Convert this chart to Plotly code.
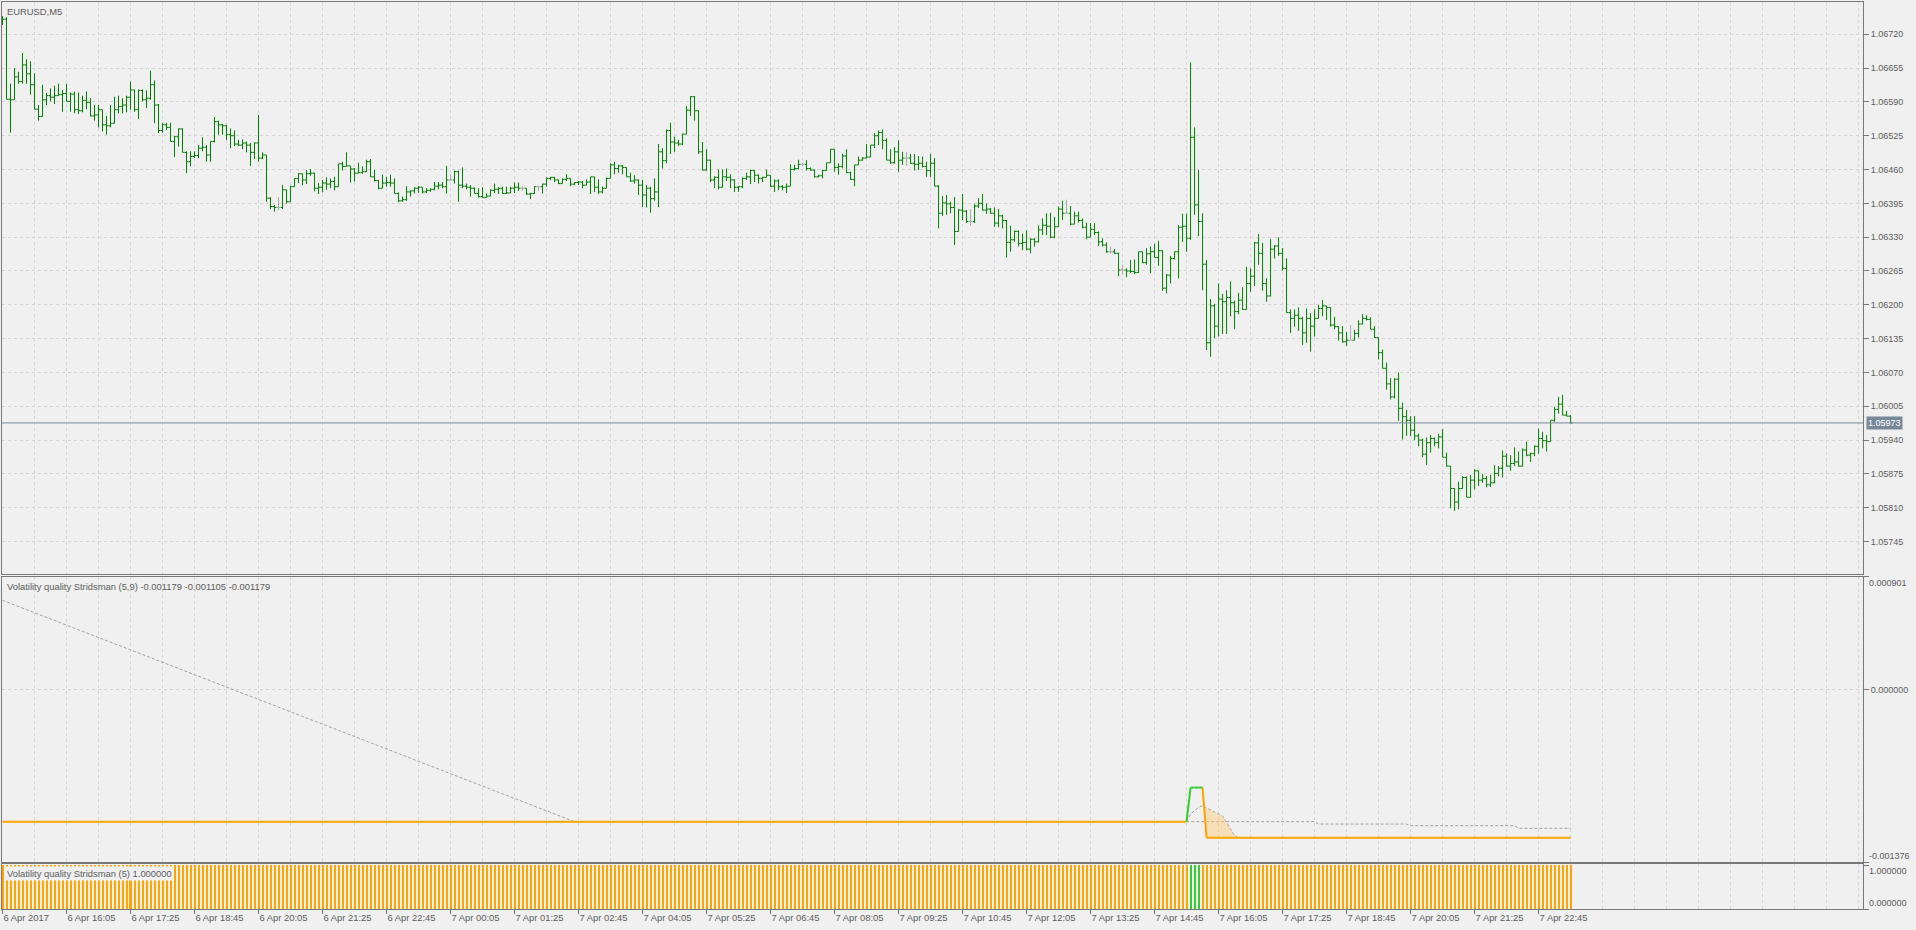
import plotly.graph_objects as go
from plotly.subplots import make_subplots

# EURUSD M5, one bar every five minutes from 6 Apr 14:45 (bar 0)
first_open = 1.06745

closes = [
    1.06749, 1.06595, 1.06594, 1.06638, 1.06629, 1.06661, 1.06644, 1.06623, 1.06576, 1.06562,
    1.06594, 1.06602, 1.06599, 1.06602, 1.06604, 1.06606, 1.06591, 1.06605, 1.06575, 1.06573,
    1.06593, 1.06589, 1.06563, 1.06565, 1.06575, 1.06546, 1.06544, 1.06549, 1.06575, 1.06581,
    1.06584, 1.06599, 1.06613, 1.06575, 1.06612, 1.06594, 1.06597, 1.06623, 1.06584, 1.06535,
    1.06546, 1.06541, 1.06514, 1.06523, 1.06538, 1.06493, 1.06475, 1.06485, 1.06487, 1.06501,
    1.06503, 1.06488, 1.06514, 1.06552, 1.06546, 1.06544, 1.06527, 1.06525, 1.06509, 1.06507,
    1.06511, 1.06507, 1.06493, 1.06511, 1.06482, 1.06488, 1.06405, 1.06389, 1.06387, 1.06387,
    1.06421, 1.06398, 1.06427, 1.06443, 1.06452, 1.06440, 1.06452, 1.06453, 1.06424, 1.06426,
    1.06434, 1.06432, 1.06437, 1.06427, 1.06471, 1.06466, 1.06467, 1.06461, 1.06453, 1.06454,
    1.06456, 1.06475, 1.06446, 1.06439, 1.06424, 1.06434, 1.06435, 1.06434, 1.06414, 1.06400,
    1.06402, 1.06417, 1.06419, 1.06424, 1.06426, 1.06417, 1.06420, 1.06422, 1.06428, 1.06430,
    1.06427, 1.06440, 1.06440, 1.06456, 1.06430, 1.06428, 1.06426, 1.06424, 1.06414, 1.06408,
    1.06406, 1.06409, 1.06420, 1.06422, 1.06424, 1.06414, 1.06415, 1.06424, 1.06426, 1.06424,
    1.06424, 1.06413, 1.06414, 1.06427, 1.06427, 1.06432, 1.06443, 1.06445, 1.06440, 1.06433,
    1.06441, 1.06443, 1.06432, 1.06435, 1.06436, 1.06430, 1.06436, 1.06446, 1.06426, 1.06417,
    1.06424, 1.06443, 1.06469, 1.06462, 1.06467, 1.06464, 1.06446, 1.06438, 1.06440, 1.06430,
    1.06411, 1.06424, 1.06404, 1.06417, 1.06494, 1.06477, 1.06535, 1.06513, 1.06511, 1.06509,
    1.06528, 1.06574, 1.06600, 1.06573, 1.06494, 1.06459, 1.06478, 1.06440, 1.06445, 1.06426,
    1.06446, 1.06445, 1.06440, 1.06426, 1.06427, 1.06443, 1.06446, 1.06458, 1.06449, 1.06443,
    1.06445, 1.06449, 1.06428, 1.06438, 1.06427, 1.06426, 1.06428, 1.06460, 1.06462, 1.06470,
    1.06470, 1.06462, 1.06459, 1.06446, 1.06448, 1.06458, 1.06473, 1.06499, 1.06464, 1.06466,
    1.06486, 1.06454, 1.06441, 1.06469, 1.06478, 1.06482, 1.06484, 1.06507, 1.06525, 1.06531,
    1.06516, 1.06478, 1.06473, 1.06494, 1.06478, 1.06482, 1.06482, 1.06472, 1.06470, 1.06472,
    1.06466, 1.06458, 1.06472, 1.06428, 1.06376, 1.06396, 1.06394, 1.06387, 1.06341, 1.06382,
    1.06380, 1.06360, 1.06360, 1.06390, 1.06395, 1.06382, 1.06384, 1.06376, 1.06357, 1.06371,
    1.06362, 1.06320, 1.06325, 1.06341, 1.06318, 1.06320, 1.06307, 1.06326, 1.06321, 1.06344,
    1.06353, 1.06351, 1.06330, 1.06350, 1.06384, 1.06376, 1.06376, 1.06355, 1.06371, 1.06362,
    1.06349, 1.06330, 1.06345, 1.06339, 1.06321, 1.06315, 1.06302, 1.06302, 1.06299, 1.06267,
    1.06267, 1.06265, 1.06264, 1.06262, 1.06302, 1.06281, 1.06298, 1.06302, 1.06291, 1.06304,
    1.06232, 1.06257, 1.06289, 1.06302, 1.06349, 1.06351, 1.06328, 1.06522, 1.06392, 1.06360,
    1.06278, 1.06127, 1.06198, 1.06159, 1.06211, 1.06206, 1.06214, 1.06204, 1.06187, 1.06209,
    1.06191, 1.06241, 1.06255, 1.06319, 1.06299, 1.06241, 1.06217, 1.06307, 1.06313, 1.06299,
    1.06270, 1.06185, 1.06174, 1.06180, 1.06174, 1.06146, 1.06174, 1.06159, 1.06174, 1.06193,
    1.06198, 1.06195, 1.06161, 1.06158, 1.06146, 1.06129, 1.06132, 1.06132, 1.06145, 1.06163,
    1.06174, 1.06172, 1.06153, 1.06137, 1.06108, 1.06078, 1.06048, 1.06023, 1.06057, 1.06001,
    1.05985, 1.05978, 1.05959, 1.05948, 1.05940, 1.05913, 1.05935, 1.05943, 1.05935, 1.05946,
    1.05907, 1.05890, 1.05847, 1.05821, 1.05847, 1.05868, 1.05830, 1.05863, 1.05881, 1.05863,
    1.05866, 1.05854, 1.05858, 1.05876, 1.05886, 1.05909, 1.05890, 1.05895, 1.05898, 1.05890,
    1.05921, 1.05911, 1.05914, 1.05928, 1.05943, 1.05939, 1.05937, 1.05978, 1.05999, 1.06009,
    1.05988, 1.05986, 1.05973,
]

highs = [
    1.06755, 1.06753, 1.06625, 1.06655, 1.06648, 1.06684, 1.06672, 1.06668, 1.06645, 1.06584,
    1.06623, 1.06607, 1.06616, 1.06621, 1.06625, 1.06613, 1.06625, 1.06608, 1.06610, 1.06608,
    1.06602, 1.06610, 1.06597, 1.06584, 1.06584, 1.06571, 1.06563, 1.06584, 1.06600, 1.06602,
    1.06597, 1.06602, 1.06629, 1.06613, 1.06614, 1.06614, 1.06612, 1.06650, 1.06631, 1.06586,
    1.06549, 1.06550, 1.06550, 1.06525, 1.06539, 1.06539, 1.06495, 1.06495, 1.06495, 1.06507,
    1.06522, 1.06507, 1.06514, 1.06561, 1.06554, 1.06548, 1.06546, 1.06539, 1.06535, 1.06517,
    1.06518, 1.06514, 1.06511, 1.06512, 1.06565, 1.06493, 1.06488, 1.06407, 1.06392, 1.06407,
    1.06430, 1.06421, 1.06429, 1.06443, 1.06453, 1.06452, 1.06459, 1.06461, 1.06454, 1.06434,
    1.06440, 1.06445, 1.06443, 1.06446, 1.06471, 1.06475, 1.06493, 1.06467, 1.06463, 1.06473,
    1.06466, 1.06479, 1.06480, 1.06459, 1.06440, 1.06450, 1.06446, 1.06450, 1.06443, 1.06416,
    1.06408, 1.06428, 1.06420, 1.06426, 1.06428, 1.06426, 1.06424, 1.06424, 1.06436, 1.06436,
    1.06436, 1.06467, 1.06451, 1.06458, 1.06458, 1.06464, 1.06433, 1.06430, 1.06426, 1.06424,
    1.06426, 1.06414, 1.06422, 1.06433, 1.06426, 1.06427, 1.06427, 1.06427, 1.06435, 1.06435,
    1.06428, 1.06422, 1.06415, 1.06428, 1.06428, 1.06433, 1.06445, 1.06446, 1.06446, 1.06441,
    1.06443, 1.06451, 1.06441, 1.06436, 1.06438, 1.06438, 1.06441, 1.06446, 1.06446, 1.06441,
    1.06427, 1.06445, 1.06472, 1.06475, 1.06469, 1.06469, 1.06464, 1.06454, 1.06449, 1.06441,
    1.06440, 1.06430, 1.06427, 1.06443, 1.06509, 1.06501, 1.06537, 1.06550, 1.06523, 1.06517,
    1.06529, 1.06582, 1.06601, 1.06601, 1.06574, 1.06513, 1.06499, 1.06479, 1.06447, 1.06460,
    1.06460, 1.06462, 1.06451, 1.06441, 1.06428, 1.06445, 1.06454, 1.06460, 1.06459, 1.06451,
    1.06446, 1.06460, 1.06449, 1.06441, 1.06441, 1.06430, 1.06433, 1.06470, 1.06469, 1.06479,
    1.06473, 1.06478, 1.06464, 1.06460, 1.06450, 1.06460, 1.06473, 1.06499, 1.06499, 1.06472,
    1.06490, 1.06499, 1.06456, 1.06469, 1.06485, 1.06484, 1.06509, 1.06507, 1.06530, 1.06535,
    1.06537, 1.06520, 1.06499, 1.06503, 1.06516, 1.06494, 1.06494, 1.06490, 1.06490, 1.06486,
    1.06485, 1.06475, 1.06490, 1.06482, 1.06430, 1.06409, 1.06411, 1.06398, 1.06407, 1.06384,
    1.06413, 1.06382, 1.06384, 1.06394, 1.06405, 1.06413, 1.06395, 1.06386, 1.06387, 1.06384,
    1.06373, 1.06363, 1.06352, 1.06343, 1.06343, 1.06337, 1.06343, 1.06328, 1.06328, 1.06353,
    1.06366, 1.06376, 1.06377, 1.06369, 1.06389, 1.06400, 1.06402, 1.06390, 1.06379, 1.06379,
    1.06366, 1.06358, 1.06357, 1.06357, 1.06341, 1.06328, 1.06320, 1.06312, 1.06307, 1.06300,
    1.06277, 1.06270, 1.06286, 1.06287, 1.06302, 1.06302, 1.06309, 1.06312, 1.06317, 1.06323,
    1.06305, 1.06259, 1.06294, 1.06302, 1.06353, 1.06375, 1.06375, 1.06666, 1.06541, 1.06459,
    1.06376, 1.06286, 1.06211, 1.06202, 1.06241, 1.06221, 1.06228, 1.06245, 1.06208, 1.06223,
    1.06234, 1.06273, 1.06270, 1.06321, 1.06336, 1.06319, 1.06251, 1.06326, 1.06315, 1.06330,
    1.06309, 1.06289, 1.06191, 1.06191, 1.06195, 1.06177, 1.06193, 1.06184, 1.06191, 1.06200,
    1.06209, 1.06198, 1.06195, 1.06177, 1.06159, 1.06159, 1.06148, 1.06161, 1.06152, 1.06170,
    1.06182, 1.06180, 1.06176, 1.06159, 1.06137, 1.06114, 1.06089, 1.06059, 1.06059, 1.06070,
    1.06012, 1.05998, 1.05986, 1.05986, 1.05952, 1.05943, 1.05945, 1.05950, 1.05945, 1.05952,
    1.05961, 1.05916, 1.05890, 1.05847, 1.05860, 1.05871, 1.05870, 1.05873, 1.05884, 1.05881,
    1.05875, 1.05871, 1.05873, 1.05892, 1.05890, 1.05920, 1.05914, 1.05911, 1.05926, 1.05918,
    1.05924, 1.05937, 1.05916, 1.05930, 1.05962, 1.05956, 1.05950, 1.05978, 1.06004, 1.06023,
    1.06027, 1.05996, 1.05988,
]

lows = [
    1.06738, 1.06595, 1.06531, 1.06594, 1.06625, 1.06625, 1.06625, 1.06604, 1.06576, 1.06554,
    1.06562, 1.06584, 1.06591, 1.06586, 1.06602, 1.06571, 1.06591, 1.06571, 1.06568, 1.06567,
    1.06570, 1.06576, 1.06562, 1.06554, 1.06541, 1.06533, 1.06527, 1.06541, 1.06555, 1.06568,
    1.06568, 1.06570, 1.06575, 1.06571, 1.06557, 1.06591, 1.06578, 1.06594, 1.06549, 1.06530,
    1.06531, 1.06536, 1.06514, 1.06484, 1.06504, 1.06493, 1.06453, 1.06466, 1.06482, 1.06482,
    1.06495, 1.06475, 1.06475, 1.06512, 1.06527, 1.06527, 1.06517, 1.06501, 1.06505, 1.06505,
    1.06499, 1.06493, 1.06467, 1.06480, 1.06475, 1.06480, 1.06398, 1.06384, 1.06379, 1.06382,
    1.06384, 1.06395, 1.06416, 1.06427, 1.06434, 1.06430, 1.06432, 1.06448, 1.06418, 1.06413,
    1.06416, 1.06421, 1.06424, 1.06420, 1.06427, 1.06458, 1.06466, 1.06435, 1.06437, 1.06453,
    1.06452, 1.06458, 1.06446, 1.06437, 1.06422, 1.06424, 1.06427, 1.06427, 1.06414, 1.06397,
    1.06398, 1.06400, 1.06408, 1.06414, 1.06415, 1.06414, 1.06415, 1.06417, 1.06420, 1.06422,
    1.06424, 1.06414, 1.06438, 1.06433, 1.06398, 1.06424, 1.06422, 1.06408, 1.06414, 1.06406,
    1.06406, 1.06406, 1.06411, 1.06415, 1.06413, 1.06413, 1.06413, 1.06417, 1.06415, 1.06419,
    1.06419, 1.06411, 1.06403, 1.06413, 1.06419, 1.06414, 1.06427, 1.06440, 1.06436, 1.06432,
    1.06433, 1.06438, 1.06428, 1.06430, 1.06430, 1.06424, 1.06432, 1.06413, 1.06417, 1.06413,
    1.06414, 1.06424, 1.06443, 1.06451, 1.06454, 1.06451, 1.06446, 1.06436, 1.06433, 1.06411,
    1.06388, 1.06387, 1.06377, 1.06400, 1.06388, 1.06462, 1.06472, 1.06490, 1.06494, 1.06505,
    1.06507, 1.06528, 1.06563, 1.06554, 1.06490, 1.06458, 1.06458, 1.06436, 1.06424, 1.06422,
    1.06430, 1.06438, 1.06424, 1.06417, 1.06417, 1.06424, 1.06440, 1.06432, 1.06436, 1.06433,
    1.06436, 1.06446, 1.06426, 1.06417, 1.06420, 1.06420, 1.06415, 1.06428, 1.06458, 1.06460,
    1.06467, 1.06458, 1.06458, 1.06445, 1.06445, 1.06443, 1.06458, 1.06473, 1.06456, 1.06450,
    1.06462, 1.06453, 1.06440, 1.06428, 1.06469, 1.06477, 1.06482, 1.06484, 1.06501, 1.06507,
    1.06499, 1.06478, 1.06471, 1.06471, 1.06456, 1.06469, 1.06467, 1.06471, 1.06458, 1.06459,
    1.06464, 1.06446, 1.06446, 1.06428, 1.06347, 1.06371, 1.06373, 1.06376, 1.06315, 1.06341,
    1.06363, 1.06357, 1.06352, 1.06357, 1.06386, 1.06381, 1.06375, 1.06375, 1.06350, 1.06349,
    1.06347, 1.06291, 1.06302, 1.06321, 1.06312, 1.06305, 1.06305, 1.06299, 1.06312, 1.06320,
    1.06334, 1.06334, 1.06328, 1.06328, 1.06350, 1.06363, 1.06375, 1.06353, 1.06355, 1.06358,
    1.06347, 1.06326, 1.06330, 1.06334, 1.06313, 1.06312, 1.06300, 1.06298, 1.06298, 1.06255,
    1.06259, 1.06253, 1.06261, 1.06259, 1.06261, 1.06280, 1.06277, 1.06261, 1.06291, 1.06275,
    1.06227, 1.06222, 1.06241, 1.06287, 1.06251, 1.06321, 1.06302, 1.06325, 1.06373, 1.06332,
    1.06228, 1.06113, 1.06100, 1.06136, 1.06139, 1.06144, 1.06144, 1.06178, 1.06153, 1.06182,
    1.06190, 1.06191, 1.06225, 1.06236, 1.06277, 1.06227, 1.06206, 1.06216, 1.06289, 1.06294,
    1.06266, 1.06185, 1.06146, 1.06158, 1.06150, 1.06123, 1.06127, 1.06110, 1.06139, 1.06178,
    1.06178, 1.06171, 1.06158, 1.06153, 1.06131, 1.06127, 1.06121, 1.06132, 1.06139, 1.06137,
    1.06164, 1.06170, 1.06153, 1.06136, 1.06095, 1.06078, 1.06037, 1.06018, 1.06020, 1.05977,
    1.05941, 1.05948, 1.05948, 1.05940, 1.05928, 1.05907, 1.05892, 1.05916, 1.05928, 1.05924,
    1.05907, 1.05889, 1.05809, 1.05804, 1.05807, 1.05847, 1.05830, 1.05830, 1.05845, 1.05852,
    1.05858, 1.05849, 1.05850, 1.05857, 1.05870, 1.05868, 1.05889, 1.05881, 1.05890, 1.05889,
    1.05889, 1.05909, 1.05898, 1.05909, 1.05914, 1.05924, 1.05918, 1.05940, 1.05975, 1.05991,
    1.05988, 1.05986, 1.05972,
]

tick_labels = [
    "6 Apr 2017", "6 Apr 16:05", "6 Apr 17:25", "6 Apr 18:45", "6 Apr 20:05",
    "6 Apr 21:25", "6 Apr 22:45", "7 Apr 00:05", "7 Apr 01:25", "7 Apr 02:45",
    "7 Apr 04:05", "7 Apr 05:25", "7 Apr 06:45", "7 Apr 08:05", "7 Apr 09:25",
    "7 Apr 10:45", "7 Apr 12:05", "7 Apr 13:25", "7 Apr 14:45", "7 Apr 16:05",
    "7 Apr 17:25", "7 Apr 18:45", "7 Apr 20:05", "7 Apr 21:25", "7 Apr 22:45",
]
bars_per_label = 16

price_ticks = [1.05745, 1.05810, 1.05875, 1.05940, 1.06005, 1.06070, 1.06135,
               1.06200, 1.06265, 1.06330, 1.06395, 1.06460, 1.06525, 1.06590,
               1.06655, 1.06720]
last_price = 1.05973

# Volatility quality Stridsman (5,9)
vq_bars = [0, 296, 297, 298, 299, 300, 301, 392]
vq_values = [-0.001054, -0.001054, -0.000782, -0.000782, -0.000782, -0.000782,
             -0.001182, -0.001182]
vq_rising = [False, False, True, True, True, True, False, False]

fast_bars = [296, 297, 298, 299, 300, 301, 302, 303, 304, 305, 306, 307, 308, 309]
fast_values = [-0.001054, -0.000995, -0.000965, -0.000940, -0.000925, -0.000945,
               -0.000962, -0.000978, -0.000993, -0.001009, -0.001060, -0.001115,
               -0.001165, -0.001182]

slow_bars = [0, 143, 328, 329, 351, 352, 378, 379, 392]
slow_values = [0.000712, -0.001054, -0.001054, -0.001073, -0.001073, -0.001086,
               -0.001086, -0.001107, -0.001107]

# Volatility quality Stridsman (5) histogram: (value, rising, number of bars)
hist_runs = [(1.0, False, 297), (1.0, True, 3), (1.0, False, 93)]

BG = "#F0F0F0"
FG = "#5C5C5C"
AXIS = "#787878"
GRID = "#D4D4D4"
GREEN = "#008000"
DOJI = "#A8A8A8"
ORANGE = "#FFA500"
LIME = "#32CD32"
SLATE = "#778899"
FONT = "Liberation Sans, Arial, sans-serif"
FS = 9
FS_TEXT = 9.4

bars = list(range(len(closes)))
opens = [first_open] + closes[:-1]
highs = [max(h, o, c) for h, o, c in zip(highs, opens, closes)]
lows = [min(l, o, c) for l, o, c in zip(lows, opens, closes)]


def pick(values, keep):
    return [v if k else None for v, k in zip(values, keep)]


is_doji = [o == c for o, c in zip(opens, closes)]
not_doji = [not d for d in is_doji]

fig = make_subplots(rows=3, cols=1, shared_xaxes=True, vertical_spacing=0)

for keep, color in ((not_doji, GREEN), (is_doji, DOJI)):
    fig.add_trace(go.Ohlc(
        x=bars,
        open=pick(opens, keep),
        high=pick(highs, keep),
        low=pick(lows, keep),
        close=pick(closes, keep),
        increasing=dict(line=dict(color=color, width=1)),
        decreasing=dict(line=dict(color=color, width=1)),
        tickwidth=0.5,
        hoverinfo="skip",
        showlegend=False,
    ), row=1, col=1)

# indicator lines
dotted = dict(color="#A0A0A0", width=1, dash="3px,2px")
fig.add_trace(go.Scatter(x=slow_bars, y=slow_values, mode="lines", line=dotted,
                         hoverinfo="skip", showlegend=False), row=2, col=1)
fig.add_trace(go.Scatter(x=fast_bars, y=fast_values, mode="lines", line=dotted,
                         hoverinfo="skip", showlegend=False), row=2, col=1)

# shading between the fast line and the falling VQ line
fill_from = fast_bars.index(300)
fill_bars = fast_bars[fill_from:]
vq_at = dict(zip(vq_bars, vq_values))
vq_fill = [vq_at.get(b, vq_values[-1]) for b in fill_bars]
fig.add_trace(go.Scatter(x=fill_bars, y=fast_values[fill_from:], mode="lines",
                         line=dict(width=0), hoverinfo="skip", showlegend=False),
              row=2, col=1)
fig.add_trace(go.Scatter(x=fill_bars, y=vq_fill, mode="lines", line=dict(width=0),
                         fill="tonexty", fillcolor="rgba(255,200,110,0.45)",
                         hoverinfo="skip", showlegend=False), row=2, col=1)

for want_up, color in ((False, ORANGE), (True, LIME)):
    xs, ys = [], []
    for k in range(1, len(vq_bars)):
        if vq_rising[k] == want_up:
            xs += [vq_bars[k - 1], vq_bars[k], None]
            ys += [vq_values[k - 1], vq_values[k], None]
    fig.add_trace(go.Scatter(x=xs, y=ys, mode="lines",
                             line=dict(color=color, width=2),
                             hoverinfo="skip", showlegend=False), row=2, col=1)

hist_y, hist_c = [], []
for value, rising, count in hist_runs:
    hist_y += [value] * count
    hist_c += [LIME if rising else ORANGE] * count
fig.add_trace(go.Bar(x=bars, y=hist_y, width=0.5, marker=dict(color=hist_c, line=dict(width=0)),
                     hoverinfo="skip", showlegend=False), row=3, col=1)

grid = dict(showgrid=True, gridcolor=GRID, gridwidth=1, griddash="3px,3px")
tick_bars = [i * bars_per_label for i in range(len(tick_labels))]
x_common = dict(
    range=[-0.125, 465.1], showline=True, mirror=True, linecolor=AXIS, linewidth=1,
    zeroline=False, tickmode="array", tickvals=tick_bars, ticktext=tick_labels,
    minor=dict(tickmode="linear", tick0=0, dtick=bars_per_label // 2, ticks="", **grid),
    rangeslider=dict(visible=False), **grid,
)
y_common = dict(side="right", showline=True, mirror=True, linecolor=AXIS, linewidth=1,
                zeroline=False, ticks="outside", ticklen=5, tickcolor=AXIS,
                tickfont=dict(family=FONT, size=FS, color=FG))

fig.update_layout(
    width=1916, height=930,
    margin=dict(l=2, r=53, t=2, b=21),
    paper_bgcolor=BG, plot_bgcolor=BG,
    font=dict(family=FONT, size=FS, color=FG),
    bargap=0,
    xaxis=dict(showticklabels=False, ticks="", **x_common),
    xaxis2=dict(showticklabels=False, ticks="", **x_common),
    xaxis3=dict(ticks="outside", ticklen=4, tickcolor=AXIS,
                ticklabelposition="outside right",
                tickfont=dict(family=FONT, size=FS_TEXT, color=FG), **x_common),
    yaxis=dict(domain=[0.3690, 1.0], range=[1.05682, 1.06782], tickvals=price_ticks,
               ticktext=[f"{p:.5f}" for p in price_ticks], **grid, **y_common),
    yaxis2=dict(domain=[0.0518, 0.3664], range=[-0.001376, 0.000901],
                tickvals=[-0.001376, 0.0, 0.000901], ticktext=["", "0.000000", ""],
                **grid, **y_common),
    yaxis3=dict(domain=[0.0, 0.0496], range=[0, 1.03], tickvals=[0, 1],
                ticktext=["", ""], showgrid=False, **y_common),
)

fig.add_shape(type="line", xref="x domain", x0=0, x1=1, yref="y", y0=last_price,
              y1=last_price, line=dict(color=SLATE, width=1))

side_labels = [
    ("y", last_price, f"{last_price:.5f}", "middle", True),
    ("y2", 0.000901, "0.000901", "top", False),
    ("y2", -0.001376, "-0.001376", "bottom", False),
    ("y3", 1.0, "1.000000", "top", False),
    ("y3", 0.0, "0.000000", "bottom", False),
]
for yref, yv, text, anchor, boxed in side_labels:
    fig.add_annotation(
        xref="paper", x=1, xanchor="left", xshift=3 if boxed else 5,
        yref=yref, y=yv, yanchor=anchor, text=text, showarrow=False,
        font=dict(family=FONT, size=FS, color="white" if boxed else FG),
        bgcolor=SLATE if boxed else None, borderpad=1 if boxed else 0,
    )

panel_titles = [
    ("y domain", "EURUSD,M5", None),
    ("y2 domain", "Volatility quality Stridsman (5,9) -0.001179 -0.001105 -0.001179", None),
    ("y3 domain", "Volatility quality Stridsman (5) 1.000000", BG),
]
for yref, text, bg in panel_titles:
    fig.add_annotation(
        xref="paper", x=0, xanchor="left", xshift=3,
        yref=yref, y=1, yanchor="top", yshift=-2,
        text=text, showarrow=False, bgcolor=bg, borderpad=1,
        font=dict(family=FONT, size=FS_TEXT, color=FG),
    )

# the page body's default 8px margin would push the chart off the window
fig.write_html("out.html", config={"displayModeBar": False},
               post_script="document.body.style.margin='0';")
